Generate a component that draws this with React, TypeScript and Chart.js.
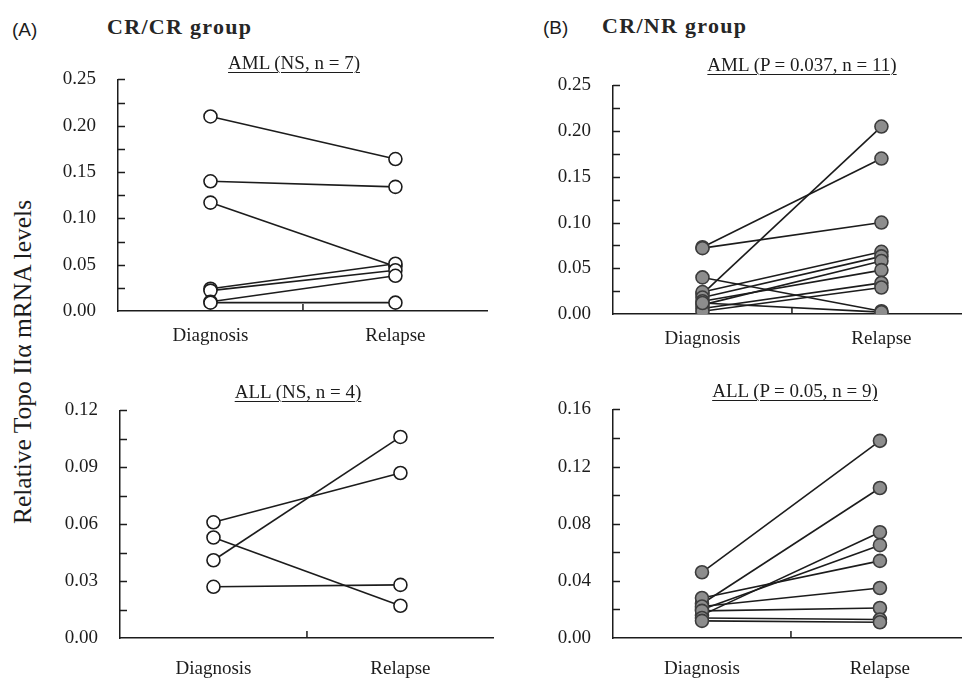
import React, { useEffect, useRef } from "react";
import { Chart, registerables } from "chart.js";

Chart.register(...registerables);

// ---------- data ----------
const categories = ["Diagnosis", "Relapse"];

// (A) CR/CR group
const amlCrCrDiagnosis = [0.210, 0.140, 0.117, 0.024, 0.022, 0.010, 0.009];
const amlCrCrRelapse = [0.164, 0.134, 0.048, 0.051, 0.044, 0.038, 0.009];
const allCrCrDiagnosis = [0.061, 0.053, 0.041, 0.027];
const allCrCrRelapse = [0.087, 0.017, 0.106, 0.028];

// (B) CR/NR group
const amlCrNrDiagnosis = [0.073, 0.072, 0.040, 0.022, 0.024, 0.018, 0.010, 0.014, 0.006, 0.003, 0.012];
const amlCrNrRelapse = [0.170, 0.100, 0.003, 0.205, 0.068, 0.063, 0.058, 0.048, 0.034, 0.029, 0.002];
const allCrNrDiagnosis = [0.046, 0.024, 0.016, 0.020, 0.028, 0.022, 0.019, 0.014, 0.012];
const allCrNrRelapse = [0.138, 0.105, 0.074, 0.065, 0.054, 0.035, 0.021, 0.013, 0.011];

// y-axis settings: max, step (minor tick), labels every 2nd tick
const amlAxisMax = 0.25;
const amlAxisStep = 0.025;
const allCrCrAxisMax = 0.12;
const allCrCrAxisStep = 0.015;
const allCrNrAxisMax = 0.16;
const allCrNrAxisStep = 0.02;

const INK = "#1c1c1c";
const SERIF = '"Liberation Serif", "Times New Roman", serif';

type PanelProps = {
  diag: number[];
  rel: number[];
  yMax: number;
  yStep: number;
  filled: boolean;
  axisLeft: number;
  plotTop: number;
  plotBottom: number;
  spacing: number;
  labelPad: number;
};

const Y_W = 80;
const PAD_T = 20;
const X_H = 50;

const inwardTicks = {
  id: "inwardTicks",
  afterDraw(chart: any, _args: any, opts: any) {
    const { ctx, chartArea, scales } = chart;
    const ys = scales.y;
    const xs = scales.x;
    const step = opts.step as number;
    const max = opts.max as number;
    const n = Math.round(max / step);
    ctx.save();
    ctx.strokeStyle = INK;
    ctx.lineWidth = 1.5;
    ctx.beginPath();
    for (let k = 1; k <= n; k++) {
      const y = Math.round(ys.getPixelForValue(k * step)) + 0.5;
      ctx.moveTo(chartArea.left, y);
      ctx.lineTo(chartArea.left + 7, y);
    }
    const xm = xs.getPixelForValue(0.5);
    ctx.moveTo(xm, chartArea.bottom);
    ctx.lineTo(xm, chartArea.bottom - 7);
    ctx.stroke();
    ctx.restore();
  },
};

function Panel(p: PanelProps) {
  const ref = useRef<HTMLCanvasElement | null>(null);
  const width = Y_W + 2 * p.spacing;
  const height = PAD_T + (p.plotBottom - p.plotTop) + X_H;
  useEffect(() => {
    const canvas = ref.current;
    if (!canvas) return;
    const lineSets = p.diag.map((d, i) => ({
      type: "line" as const,
      data: [
        { x: 0, y: d },
        { x: 1, y: p.rel[i] },
      ],
      borderColor: INK,
      borderWidth: 1.6,
      pointRadius: 0,
      showLine: true,
      order: 1,
    }));
    const pts: { x: number; y: number }[] = [];
    p.diag.forEach((d, i) => {
      pts.push({ x: 0, y: d });
      pts.push({ x: 1, y: p.rel[i] });
    });
    const pointSet = {
      type: "scatter" as const,
      data: pts,
      showLine: false,
      pointRadius: 6.5,
      pointBorderWidth: 1.6,
      pointBackgroundColor: p.filled ? "#8d8d8d" : "#ffffff",
      pointBorderColor: p.filled ? "#3c3c3c" : INK,
      order: 0,
    };
    const chart = new Chart(canvas, {
      type: "scatter",
      data: { datasets: [pointSet as any, ...lineSets] },
      options: {
        animation: false,
        responsive: false,
        maintainAspectRatio: false,
        events: [],
        layout: { padding: { top: PAD_T, left: 0, right: 0, bottom: 0 } },
        plugins: {
          legend: { display: false },
          tooltip: { enabled: false },
          inwardTicks: { step: p.yStep, max: p.yMax },
        } as any,
        scales: {
          x: {
            type: "linear",
            min: -0.5,
            max: 1.5,
            afterBuildTicks: (s: any) => {
              s.ticks = [{ value: 0 }, { value: 1 }];
            },
            afterFit: (s: any) => {
              s.height = X_H;
            },
            grid: { display: false, drawTicks: false },
            border: { display: true, color: INK, width: 1.5 },
            ticks: {
              color: INK,
              padding: p.labelPad,
              font: { family: SERIF, size: 19 },
              callback: (v: any) => categories[Math.round(Number(v))] ?? "",
            },
          },
          y: {
            type: "linear",
            min: 0,
            max: p.yMax,
            afterFit: (s: any) => {
              s.width = Y_W;
            },
            grid: { display: false, drawTicks: false },
            border: { display: true, color: INK, width: 1.5 },
            ticks: {
              stepSize: p.yStep,
              color: INK,
              padding: 22,
              font: { family: SERIF, size: 19 },
              callback: (v: any, i: number) => (i % 2 === 0 ? Number(v).toFixed(2) : ""),
            },
          },
        },
      },
      plugins: [inwardTicks],
    });
    // make the plot area land exactly on the requested page coordinates
    const ca = chart.chartArea;
    const wantH = p.plotBottom - p.plotTop;
    const dh = wantH - (ca.bottom - ca.top);
    const wantW = 2 * p.spacing;
    const dw = wantW - (ca.right - ca.left);
    if (Math.abs(dh) > 0.5 || Math.abs(dw) > 0.5) {
      chart.resize(Math.round(width + dw), Math.round(height + dh));
    }
    const ca2 = chart.chartArea;
    canvas.style.left = `${p.axisLeft - ca2.left}px`;
    canvas.style.top = `${p.plotTop - ca2.top}px`;
    return () => chart.destroy();
  }, []);
  return (
    <canvas
      ref={ref}
      width={width}
      height={height}
      style={{
        position: "absolute",
        left: p.axisLeft - Y_W,
        top: p.plotTop - PAD_T,
        width,
        height,
      }}
    />
  );
}

const textBase: React.CSSProperties = {
  position: "absolute",
  whiteSpace: "nowrap",
  color: INK,
  lineHeight: 1,
};

function Sub({ text, cx, top }: { text: string; cx: number; top: number }) {
  return (
    <div
      style={{
        ...textBase,
        left: cx,
        top,
        transform: "translateX(-50%)",
        fontFamily: SERIF,
        fontSize: 19,
        textDecoration: "underline",
        textUnderlineOffset: 3,
        textDecorationThickness: 1,
        zIndex: 2,
      }}
    >
      {text}
    </div>
  );
}

export default function App() {
  return (
    <div
      style={{
        position: "absolute",
        left: 0,
        top: 0,
        width: 962,
        height: 679,
        overflow: "hidden",
        background: "#ffffff",
      }}
    >
      <Panel diag={amlCrCrDiagnosis} rel={amlCrCrRelapse} yMax={amlAxisMax} yStep={amlAxisStep} filled={false}
        axisLeft={118} plotTop={79} plotBottom={311} spacing={185} labelPad={14} />
      <Panel diag={allCrCrDiagnosis} rel={allCrCrRelapse} yMax={allCrCrAxisMax} yStep={allCrCrAxisStep} filled={false}
        axisLeft={120} plotTop={410} plotBottom={638} spacing={187} labelPad={20} />
      <Panel diag={amlCrNrDiagnosis} rel={amlCrNrRelapse} yMax={amlAxisMax} yStep={amlAxisStep} filled={true}
        axisLeft={613} plotTop={85} plotBottom={314} spacing={179} labelPad={14} />
      <Panel diag={allCrNrDiagnosis} rel={allCrNrRelapse} yMax={allCrNrAxisMax} yStep={allCrNrAxisStep} filled={true}
        axisLeft={613} plotTop={409} plotBottom={638} spacing={178} labelPad={20} />

      <div style={{ ...textBase, left: 12, top: 20, fontFamily: '"Liberation Sans", Arial, sans-serif', fontSize: 19 }}>(A)</div>
      <div style={{ ...textBase, left: 107, top: 16, fontFamily: SERIF, fontSize: 22, fontWeight: "bold", letterSpacing: 1.3, color: "#262626" }}>CR/CR group</div>
      <div style={{ ...textBase, left: 543, top: 18, fontFamily: '"Liberation Sans", Arial, sans-serif', fontSize: 19 }}>(B)</div>
      <div style={{ ...textBase, left: 602, top: 15, fontFamily: SERIF, fontSize: 22, fontWeight: "bold", letterSpacing: 1.3, color: "#262626" }}>CR/NR group</div>

      <Sub text="AML (NS, n = 7)" cx={294} top={53} />
      <Sub text="AML (P = 0.037, n = 11)" cx={802} top={55} />
      <Sub text="ALL (NS, n = 4)" cx={298} top={382} />
      <Sub text="ALL (P = 0.05, n = 9)" cx={795} top={381} />

      <div
        style={{
          ...textBase,
          left: 23,
          top: 362,
          transform: "translate(-50%, -50%) rotate(-90deg)",
          fontFamily: SERIF,
          fontSize: 25.5,
        }}
      >
        Relative Topo IIα mRNA levels
      </div>
    </div>
  );
}
